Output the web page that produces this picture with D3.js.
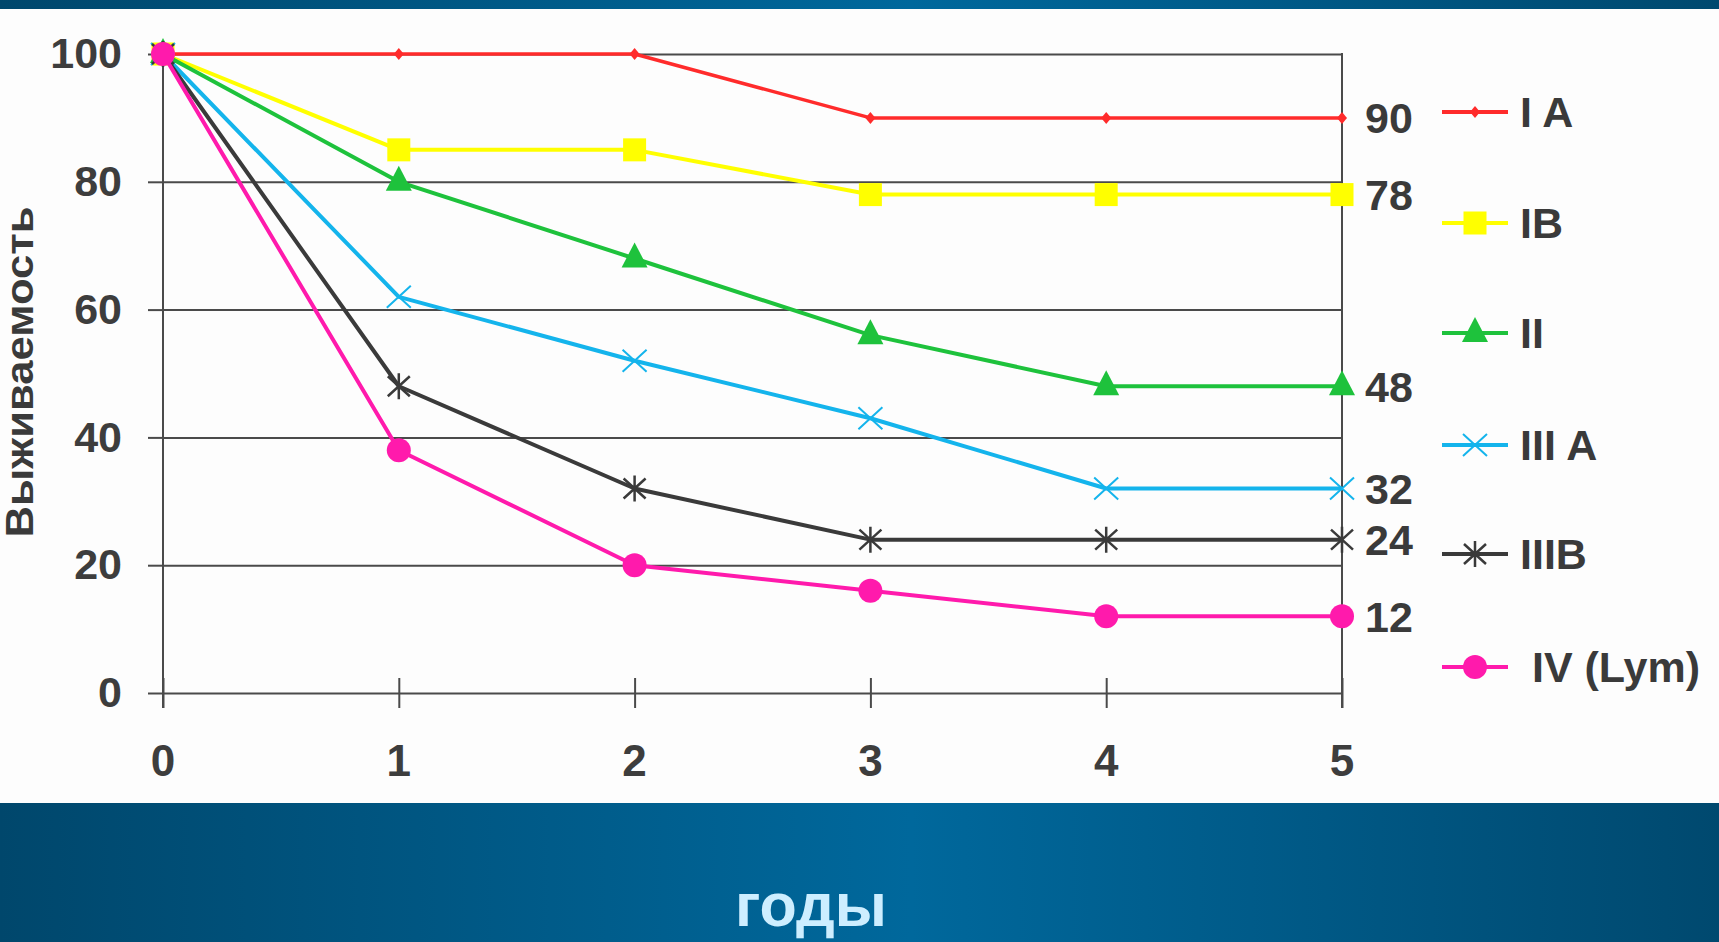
<!DOCTYPE html>
<html>
<head>
<meta charset="utf-8">
<script src="https://d3js.org/d3.v7.min.js"></script>
<style>
  body { margin: 0; padding: 0; overflow: hidden; background: #fff; }
  svg { display: block; }
  text { font-family: "Liberation Sans", Arial, sans-serif; font-weight: bold; }
</style>
</head>
<body>
<svg id="chart" width="1719" height="942"></svg>
<script>
// data
var years = [0, 1, 2, 3, 4, 5];
var yTicks = [0, 20, 40, 60, 80, 100];
var seriesNames = ["I A", "IB", "II", "III A", "IIIB", " IV (Lym)"];
var valsIA = [100, 100, 100, 90, 90, 90];
var valsIB = [100, 85, 85, 78, 78, 78];
var valsII = [100, 80, 68, 56, 48, 48];
var valsIIIA = [100, 62, 52, 43, 32, 32];
var valsIIIB = [100, 48, 32, 24, 24, 24];
var valsIV = [100, 38, 20, 16, 12, 12];
var endLabels = ["90", "78", "48", "32", "24", "12"];

var colors = ["#ff2b2b", "#ffff00", "#1ec23c", "#14b4ec", "#3a3a3a", "#ff1aac"];
var shapes = ["diamond", "square", "triangle", "cross", "star", "circle"];

var svg = d3.select("#chart"),
  width = +svg.attr("width"),
  height = +svg.attr("height");

// blue bands
var defs = svg.append("defs");
var grad = defs.append("linearGradient").attr("id", "band").attr("x1", "0%").attr("x2", "100%");
grad.append("stop").attr("offset", "0%").attr("stop-color", "#00476c");
grad.append("stop").attr("offset", "53%").attr("stop-color", "#00689c");
grad.append("stop").attr("offset", "100%").attr("stop-color", "#00496f");

svg.append("rect").attr("x", 0).attr("y", 0).attr("width", width).attr("height", 9).attr("fill", "url(#band)");
svg.append("rect").attr("x", 0).attr("y", 803).attr("width", width).attr("height", height - 803).attr("fill", "url(#band)");
svg.append("rect").attr("x", 0).attr("y", 9).attr("width", width).attr("height", 794).attr("fill", "#fdfdfd");

var x = d3.scaleLinear().domain([0, 5]).range([163, 1342]);
var y = d3.scaleLinear().domain([0, 100]).range([693, 54]);

var grid = "#4a4a4a";

// horizontal grid lines
svg.append("g")
  .attr("transform", "translate(" + x(0) + ",0)")
  .call(d3.axisLeft(y).tickValues(yTicks).tickSize(-(x(5) - x(0))).tickFormat(""))
  .call(function(g) { g.select(".domain").remove(); })
  .selectAll("line").attr("stroke", grid).attr("stroke-width", 2);

// left tick stubs + labels
svg.append("g")
  .attr("transform", "translate(" + x(0) + ",0)")
  .call(d3.axisLeft(y).tickValues(yTicks).tickSize(15).tickPadding(26))
  .call(function(g) { g.select(".domain").remove(); })
  .call(function(g) { g.selectAll("line").attr("stroke", grid).attr("stroke-width", 2); })
  .selectAll("text")
    .attr("font-size", 43)
    .attr("fill", "#3d3d3d")
    .attr("font-family", "Liberation Sans, Arial, sans-serif")
    .attr("font-weight", "bold");

// x axis ticks crossing the zero line
svg.append("g")
  .attr("transform", "translate(0," + (y(0) + 15) + ")")
  .call(d3.axisBottom(x).tickValues(years).tickSize(30).tickFormat(""))
  .call(function(g) { g.select(".domain").remove(); })
  .selectAll("line").attr("stroke", grid).attr("stroke-width", 2).attr("y1", -30).attr("y2", 0);

svg.append("g").selectAll("text")
  .data(years)
  .enter().append("text")
    .attr("x", function(d) { return x(d); })
    .attr("y", 776)
    .attr("text-anchor", "middle")
    .attr("font-size", 44)
    .attr("fill", "#3d3d3d")
    .text(function(d) { return d; });

// vertical borders
[0, 5].forEach(function(v) {
  svg.append("line")
    .attr("x1", x(v)).attr("x2", x(v))
    .attr("y1", y(100) - 1).attr("y2", y(0) + 15)
    .attr("stroke", grid).attr("stroke-width", 2);
});

// axis titles
svg.append("text")
  .attr("transform", "translate(33," + 372 + ") rotate(-90)")
  .attr("text-anchor", "middle")
  .attr("font-size", 38)
  .attr("fill", "#3a3a3a")
  .attr("textLength", 331)
  .attr("lengthAdjust", "spacingAndGlyphs")
  .text("Выживаемость");

svg.append("text")
  .attr("x", 811)
  .attr("y", 926)
  .attr("text-anchor", "middle")
  .attr("font-size", 62)
  .attr("fill", "#cdeeff")
  .attr("textLength", 152)
  .attr("lengthAdjust", "spacingAndGlyphs")
  .text("годы");

// markers
function drawMarker(g, shape, color, cx, cy) {
  if (shape === "diamond") {
    g.append("path").attr("d", "M" + cx + "," + (cy - 6) + "L" + (cx + 5) + "," + cy + "L" + cx + "," + (cy + 6) + "L" + (cx - 5) + "," + cy + "Z").attr("fill", color);
  } else if (shape === "square") {
    g.append("rect").attr("x", cx - 11.5).attr("y", cy - 11.5).attr("width", 23).attr("height", 23).attr("fill", color);
  } else if (shape === "triangle") {
    g.append("path").attr("d", "M" + cx + "," + (cy - 16) + "L" + (cx + 13) + "," + (cy + 9) + "L" + (cx - 13) + "," + (cy + 9) + "Z").attr("fill", color);
  } else if (shape === "cross") {
    g.append("path").attr("d", "M" + (cx - 12) + "," + (cy - 11) + "L" + (cx + 12) + "," + (cy + 11) + "M" + (cx + 12) + "," + (cy - 11) + "L" + (cx - 12) + "," + (cy + 11))
      .attr("stroke", color).attr("stroke-width", 2).attr("fill", "none");
  } else if (shape === "star") {
    g.append("path").attr("d", "M" + (cx - 11) + "," + (cy - 10) + "L" + (cx + 11) + "," + (cy + 10) + "M" + (cx + 11) + "," + (cy - 10) + "L" + (cx - 11) + "," + (cy + 10) + "M" + cx + "," + (cy - 13) + "L" + cx + "," + (cy + 13))
      .attr("stroke", color).attr("stroke-width", 2.5).attr("fill", "none");
  } else {
    g.append("circle").attr("cx", cx).attr("cy", cy).attr("r", 12).attr("fill", color);
  }
}

var allSeries = [valsIA, valsIB, valsII, valsIIIA, valsIIIB, valsIV];
var line = d3.line()
  .x(function(d, i) { return x(years[i]); })
  .y(function(d) { return y(d); });

allSeries.forEach(function(vals, s) {
  var g = svg.append("g").attr("class", "series");
  g.append("path")
    .attr("d", line(vals))
    .attr("fill", "none")
    .attr("stroke", colors[s])
    .attr("stroke-width", s === 0 ? 3.5 : 4)
    .attr("stroke-linejoin", "round");
  vals.forEach(function(v, i) {
    drawMarker(g, shapes[s], colors[s], x(years[i]), y(v));
  });
  // end value label
  svg.append("text")
    .attr("x", 1365)
    .attr("y", y(vals[vals.length - 1]))
    .attr("dy", "0.36em")
    .attr("font-size", 43)
    .attr("fill", "#3a3a3a")
    .text(endLabels[s]);
});

// legend
var legendY = [112, 223, 333, 445, 554, 667];
seriesNames.forEach(function(name, s) {
  var g = svg.append("g").attr("class", "legend");
  g.append("line")
    .attr("x1", 1442).attr("x2", 1508)
    .attr("y1", legendY[s]).attr("y2", legendY[s])
    .attr("stroke", colors[s]).attr("stroke-width", 4);
  drawMarker(g, shapes[s], colors[s], 1475, legendY[s]);
  g.append("text")
    .attr("x", 1520)
    .attr("y", legendY[s])
    .attr("dy", "0.36em")
    .attr("font-size", 43)
    .attr("fill", "#3a3a3a")
    .attr("xml:space", "preserve")
    .style("white-space", "pre")
    .text(name);
});
</script>
</body>
</html>
